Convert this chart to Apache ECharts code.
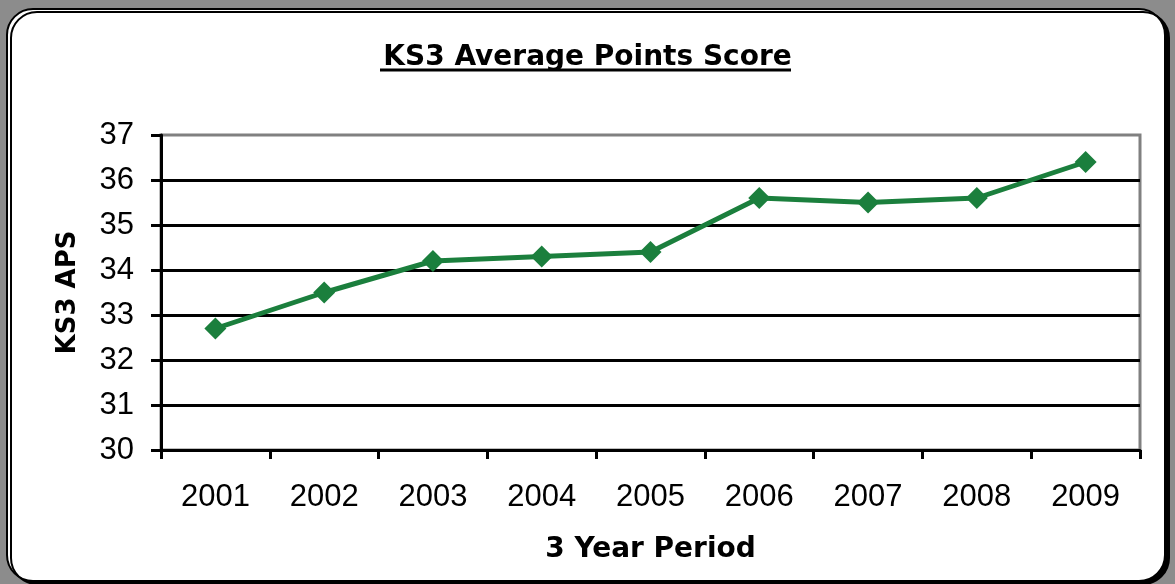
<!DOCTYPE html>
<html>
<head>
<meta charset="utf-8">
<script src="https://cdn.jsdelivr.net/npm/echarts@6/dist/echarts.min.js"></script>
<style>
  html, body { margin: 0; padding: 0; background: #8c8c8c; }
  #container { width: 1175px; height: 584px; }
</style>
</head>
<body>
<div id="container"></div>
<script>
var years = ["2001", "2002", "2003", "2004", "2005", "2006", "2007", "2008", "2009"];
var apsScores = [32.7, 33.5, 34.2, 34.3, 34.4, 35.6, 35.5, 35.6, 36.4];
var yMin = 30;
var yMax = 37;

var chartDom = document.getElementById("container");
var myChart = echarts.init(chartDom);
var option;

option = {
  backgroundColor: "#8c8c8c",
  animation: false,
  graphic: [
    {
      type: "rect",
      z: -10,
      shape: { x: 7, y: 9, width: 1158, height: 572, r: 26 },
      style: {
        fill: "#fff",
        stroke: "#000",
        lineWidth: 2,
        shadowColor: "#000",
        shadowOffsetX: 4,
        shadowOffsetY: 3
      }
    },
    {
      // title underline
      type: "line",
      shape: { x1: 380, y1: 70, x2: 791, y2: 70 },
      style: { stroke: "#000", lineWidth: 3 }
    }
  ],
  title: {
    text: "KS3 Average Points Score",
    left: "center",
    top: 39,
    textStyle: {
      fontFamily: "DejaVu Sans",
      fontWeight: "bold",
      fontSize: 28,
      color: "#000"
    }
  },
  grid: {
    left: 161,
    right: 35,
    top: 135,
    bottom: 134,
    show: true,
    borderColor: "#808080",
    borderWidth: 3,
    backgroundColor: "transparent"
  },
  xAxis: {
    type: "category",
    data: years,
    boundaryGap: true,
    name: "3 Year Period",
    nameLocation: "middle",
    nameGap: 86,
    nameTextStyle: {
      fontFamily: "DejaVu Sans",
      fontWeight: "bold",
      fontSize: 28,
      color: "#000"
    },
    axisLine: { lineStyle: { color: "#000", width: 3 } },
    axisTick: { show: true, length: 9, lineStyle: { color: "#000", width: 3 } },
    axisLabel: {
      fontFamily: "Liberation Sans",
      fontSize: 31,
      color: "#000",
      margin: 32
    }
  },
  yAxis: {
    type: "value",
    min: yMin,
    max: yMax,
    interval: 1,
    name: "KS3 APS",
    nameLocation: "middle",
    nameGap: 80,
    nameRotate: 90,
    nameTextStyle: {
      fontFamily: "DejaVu Sans",
      fontWeight: "bold",
      fontSize: 26,
      color: "#000"
    },
    axisLine: { show: true, lineStyle: { color: "#000", width: 3 } },
    axisTick: { show: true, length: 10, lineStyle: { color: "#000", width: 3 } },
    axisLabel: {
      fontFamily: "Liberation Sans",
      fontSize: 31,
      color: "#000",
      margin: 27
    },
    splitLine: {
      show: true,
      showMaxLine: false,
      lineStyle: { color: "#000", width: 3 }
    }
  },
  series: [
    {
      name: "KS3 APS",
      type: "line",
      data: apsScores,
      symbol: "diamond",
      symbolSize: 22,
      lineStyle: { color: "#1b7f3d", width: 5 },
      itemStyle: { color: "#1b7f3d" }
    }
  ]
};
option && myChart.setOption(option);
</script>
</body>
</html>
